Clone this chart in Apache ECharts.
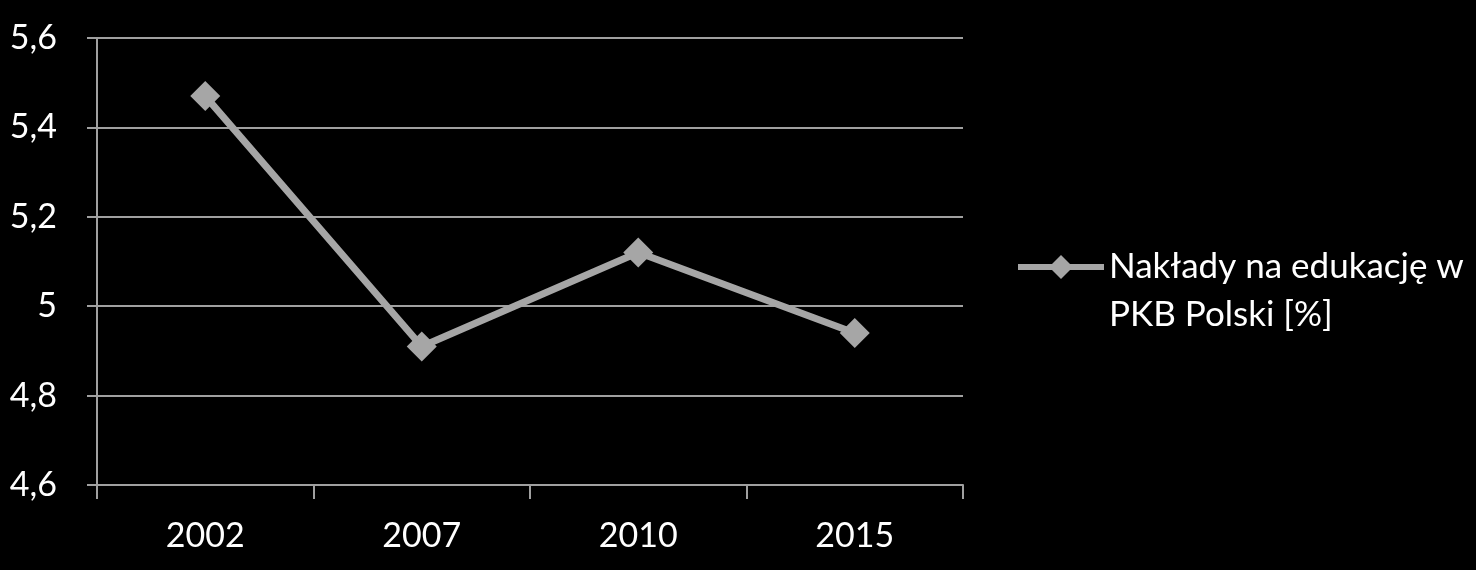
<!DOCTYPE html>
<html><head><meta charset="utf-8">
<script src="https://cdn.jsdelivr.net/npm/echarts@6/dist/echarts.min.js"></script>
<style>html,body{margin:0;padding:0;background:#000;}#c{width:1476px;height:570px;}</style>
</head><body><div id="c"></div>
<script>
const categories = ['2002', '2007', '2010', '2015'];
const values = [5.47, 4.91, 5.12, 4.94];
const seriesName = 'Nakłady na edukację w\nPKB Polski [%]';
const chart = echarts.init(document.getElementById('c'));
const FONT = 'Lato';
chart.setOption({
  backgroundColor: '#000',
  animation: false,
  grid: {left: 97, right: 513, top: 38, bottom: 85, containLabel: false},
  legend: {
    show: true, left: 1010, top: 190, orient: 'vertical',
    itemWidth: 86, itemHeight: 30, itemGap: 0,
    lineStyle: {width: 6, color: '#a6a6a6'},
    itemStyle: {color: '#a6a6a6'},
    textStyle: {color: '#fff', fontFamily: FONT, fontSize: 35, lineHeight: 48},
    formatter: name => ' \n' + name,
    data: [seriesName]
  },
  xAxis: {
    type: 'category', data: categories, boundaryGap: true,
    axisLine: {lineStyle: {color: '#a0a0a0', width: 2}},
    axisTick: {show: true, length: 14, lineStyle: {color: '#a0a0a0', width: 2}},
    axisLabel: {color: '#fff', fontFamily: FONT, fontSize: 34, margin: 34}
  },
  yAxis: {
    type: 'value', min: 4.6, max: 5.6, interval: 0.2,
    axisLine: {show: true, lineStyle: {color: '#a0a0a0', width: 2}},
    axisTick: {show: true, inside: false, length: 10, lineStyle: {color: '#a0a0a0', width: 2}},
    splitLine: {lineStyle: {color: '#a0a0a0', width: 2}},
    axisLabel: {color: '#fff', fontFamily: FONT, fontSize: 34, margin: 40,
      formatter: v => (Math.round(v * 10) / 10).toString().replace('.', ',')}
  },
  series: [{
    name: seriesName, type: 'line', data: values,
    symbol: 'diamond', symbolSize: 30,
    lineStyle: {color: '#a6a6a6', width: 7},
    itemStyle: {color: '#a6a6a6'}
  }]
});
</script></body></html>
